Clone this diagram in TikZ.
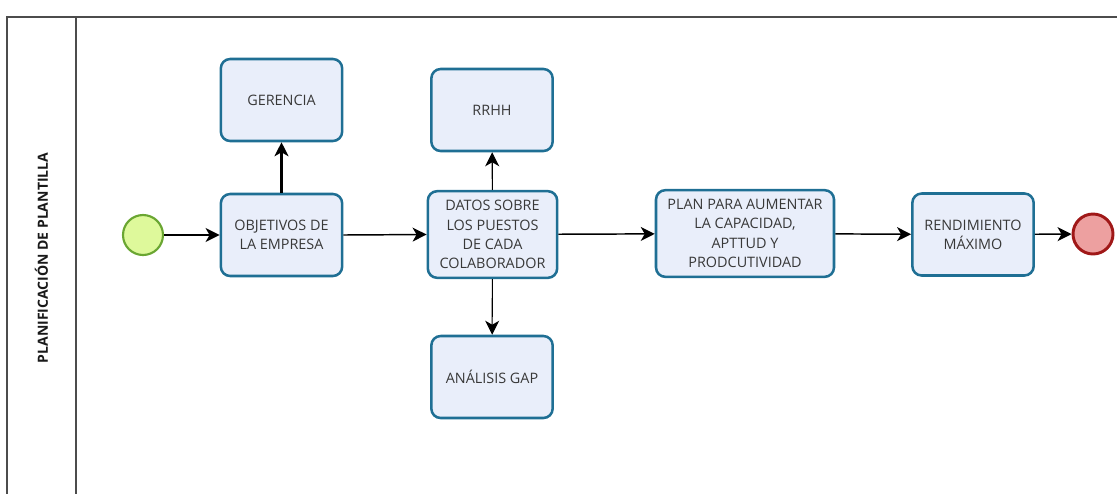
\documentclass[tikz,border=0pt]{standalone}
\usepackage{fontspec}
\setmainfont{Open Sans}
\usetikzlibrary{arrows.meta}
\definecolor{bordeazul}{HTML}{1F6F94}
\definecolor{fondoazul}{HTML}{E9EEFA}
\definecolor{verdeborde}{HTML}{6AA632}
\definecolor{verdefondo}{HTML}{DEF99B}
\definecolor{rojoborde}{HTML}{A01818}
\definecolor{rojofondo}{HTML}{EDA0A0}
\definecolor{textogris}{HTML}{383838}
\begin{document}
\begin{tikzpicture}[x=0.75pt, y=-0.75pt,
    tarea/.style={draw=bordeazul, fill=fondoazul, line width=1.9pt, rounded corners=7pt,
        minimum width=91pt, minimum height=61.5pt, inner sep=2pt, align=center,
        text=textogris, font=\fontsize{10.8}{14.4}\selectfont},
    flujo/.style={-{Stealth[length=10.5pt, width=10.5pt, inset=3pt]}, line width=1.1pt}]
        \useasboundingbox (0,0) rectangle (1117,494);

        % Marco del carril
        \draw[black!70, line width=1.3pt] (1117,17) -- (7,17) -- (7,494);
        \draw[black!70, line width=1.3pt] (76,17) -- (76,494);
        \node[rotate=90, font=\fontsize{10.5}{12}\selectfont\bfseries, text=black!90] (carril) at (41.5,258) {PLANIFICACIÓN DE PLANTILLA};

        % Eventos de inicio y fin
        \node[circle, draw=verdeborde, fill=verdefondo, line width=1.6pt, minimum size=30pt, inner sep=0pt] (inicio) at (143,235) {};
        \node[circle, draw=rojoborde, fill=rojofondo, line width=2.2pt, minimum size=30pt, inner sep=0pt] (fin) at (1093,234) {};

        % Tareas
        \node[tarea] (gerencia) at (281.5,100) {GERENCIA};
        \node[tarea] (objetivos) at (281.5,235) {OBJETIVOS DE\\LA EMPRESA};
        \node[tarea] (rrhh) at (492,110) {RRHH};
        \node[tarea, minimum width=97pt, minimum height=65pt] (datos) at (492.5,234.5) {DATOS SOBRE\\LOS PUESTOS\\DE CADA\\COLABORADOR};
        \node[tarea] (gap) at (492,377) {ANÁLISIS GAP};
        \node[tarea, minimum width=133.5pt, minimum height=65pt] (plan) at (745,233.5) {PLAN PARA AUMENTAR\\LA CAPACIDAD,\\APTTUD Y\\PRODCUTIVIDAD};
        \node[tarea] (rendimiento) at (973,234.5) {RENDIMIENTO\\MÁXIMO};

        % Flujos
        \draw[flujo] (inicio) -- (objetivos);
        \draw[flujo, line width=1.6pt] (objetivos) -- (gerencia);
        \draw[flujo] (objetivos.east) -- (datos.west);
        \draw[flujo, line width=0.8pt] (datos) -- (rrhh);
        \draw[flujo, line width=0.8pt] (datos) -- (gap);
        \draw[flujo] (datos) -- (plan);
        \draw[flujo] (plan) -- (rendimiento);
        \draw[flujo] (rendimiento) -- (fin);
    \end{tikzpicture}
\end{document}
